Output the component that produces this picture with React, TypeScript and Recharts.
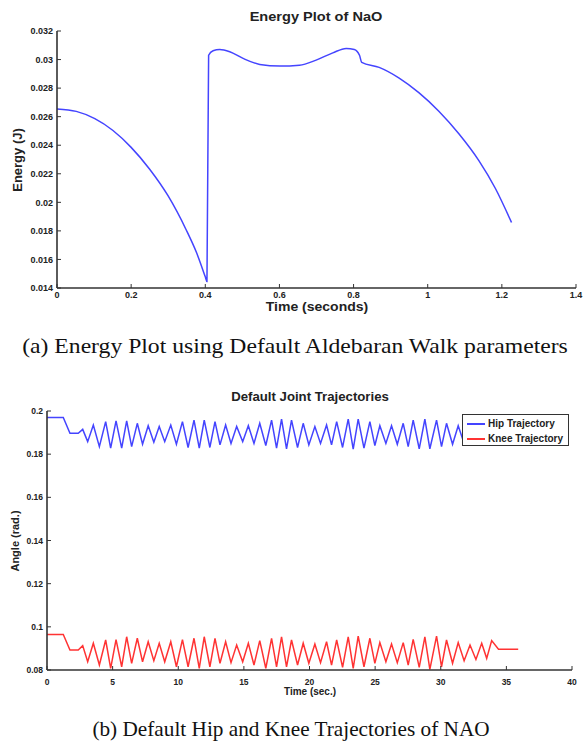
import React from "react";
import { LineChart, Line, XAxis, YAxis, Legend } from "recharts";

// (a) energy of the walk
const energyTime = [
  0, 0.052, 0.102, 0.151, 0.2, 0.25, 0.299, 0.348, 0.376, 0.4, 0.4045,
  0.409, 0.421, 0.439, 0.466, 0.502, 0.547, 0.601, 0.654, 0.699, 0.744,
  0.78, 0.802, 0.816, 0.822, 0.869, 0.923, 0.976, 1.03, 1.084, 1.138,
  1.183, 1.226,
];
const energyValue = [
  0.02654, 0.02637, 0.02586, 0.02503, 0.02385, 0.02232, 0.02048, 0.0181, 0.0165, 0.01478, 0.01445,
  0.0303, 0.03062, 0.03071, 0.03055, 0.03008, 0.02966, 0.02954, 0.0296, 0.02996, 0.03047,
  0.03078, 0.03071, 0.0303, 0.0298, 0.02945, 0.0287, 0.02768, 0.02638, 0.0248, 0.02292,
  0.02095, 0.01859,
];
const energyXTicks = [0, 0.2, 0.4, 0.6, 0.8, 1, 1.2, 1.4];
const energyYTicks = [0.014, 0.016, 0.018, 0.02, 0.022, 0.024, 0.026, 0.028, 0.03, 0.032];

// (b) joint trajectories: turning points of the zigzag
const jointTime = [
  0, 1.24, 1.75, 2.38, 2.72, 3.1,
  3.53, 3.99, 4.47, 4.85, 5.26, 5.69, 6.07, 6.45, 6.88, 7.28,
  7.71, 8.14, 8.55, 8.97, 9.43, 9.86, 10.32, 10.75, 11.2, 11.6,
  11.98, 12.41, 12.8, 13.18, 13.61, 14.02, 14.45, 14.91, 15.34, 15.77,
  16.21, 16.67, 17.11, 17.49, 17.87, 18.25, 18.63, 19.09, 19.52, 19.95,
  20.41, 20.84, 21.3, 21.68, 22.07, 22.52, 22.95, 23.33, 23.71, 24.15,
  24.6, 24.98, 25.36, 25.82, 26.25, 26.69, 27.14, 27.52, 27.9, 28.36,
  28.79, 29.17, 29.68, 30.06, 30.44, 30.9, 31.33, 31.78, 32.23, 32.68,
  33.12, 33.5, 33.88, 34.4, 35.9,
];
const hipAngle = [
  0.197, 0.197, 0.1897, 0.1897, 0.1915, 0.1858,
  0.1935, 0.1835, 0.1951, 0.1828, 0.1954, 0.1828, 0.1954, 0.1835, 0.1943, 0.1846,
  0.1932, 0.1855, 0.1928, 0.1858, 0.1935, 0.1846, 0.1951, 0.1831, 0.1958, 0.1828,
  0.1958, 0.1831, 0.1951, 0.1843, 0.1935, 0.185, 0.1928, 0.1858, 0.1932, 0.185,
  0.1943, 0.184, 0.1958, 0.1828, 0.1962, 0.1825, 0.1958, 0.1831, 0.1943, 0.1843,
  0.1928, 0.185, 0.1935, 0.1843, 0.1951, 0.1831, 0.1962, 0.1823, 0.1962, 0.1828,
  0.1951, 0.184, 0.1932, 0.185, 0.1932, 0.1846, 0.1943, 0.1835, 0.1958, 0.1825,
  0.1962, 0.1825, 0.1958, 0.1835, 0.1943, 0.1846, 0.1932, 0.185, 0.193, 0.1848,
  0.1935, 0.185, 0.194, 0.1895, 0.1895,
];
const kneeAngle = [
  0.0965, 0.0965, 0.0893, 0.0893, 0.0913, 0.0838,
  0.0924, 0.0823, 0.0939, 0.0808, 0.0941, 0.0815, 0.0954, 0.0831, 0.0947, 0.0838,
  0.0931, 0.0843, 0.0924, 0.0838, 0.0931, 0.0815, 0.0941, 0.0815, 0.0947, 0.0808,
  0.0954, 0.0815, 0.0947, 0.0831, 0.0931, 0.0834, 0.0916, 0.0838, 0.0924, 0.0823,
  0.0936, 0.0808, 0.0947, 0.0815, 0.0954, 0.0815, 0.0939, 0.0823, 0.0924, 0.0831,
  0.092, 0.0834, 0.0931, 0.0823, 0.0939, 0.0812, 0.0954, 0.0808, 0.0957, 0.0815,
  0.0947, 0.0831, 0.0927, 0.0838, 0.092, 0.0834, 0.0927, 0.0823, 0.0942, 0.0812,
  0.0954, 0.0803, 0.0957, 0.0815, 0.0939, 0.0831, 0.0927, 0.0843, 0.0916, 0.0849,
  0.0924, 0.0854, 0.0936, 0.0896, 0.0896,
];
const jointXTicks = [0, 5, 10, 15, 20, 25, 30, 35, 40];
const jointYTicks = [0.08, 0.1, 0.12, 0.14, 0.16, 0.18, 0.2];

const energyData = energyTime.map((t, i) => ({ t, energy: energyValue[i] }));
const jointData = jointTime.map((t, i) => ({ t, hip: hipAngle[i], knee: kneeAngle[i] }));

const SANS = '"Liberation Sans", Arial, sans-serif';
const SERIF = '"Liberation Serif", "Times New Roman", serif';
const FRAME = "#333";
const BLUE = "#4444ff";
const RED = "#ff3333";

// centred text; the scanned figure is a bit wider than tall, hence stretch
function Txt({ x, y, size, bold = true, serif = false, rotate = false, stretch = 1, children }: any) {
  const tf = rotate ? " rotate(-90deg)" : ` scaleX(${stretch})`;
  return (
    <div
      style={{
        position: "absolute",
        left: x,
        top: y,
        transform: `translate(-50%, -50%)${tf}`,
        whiteSpace: "nowrap",
        fontFamily: serif ? SERIF : SANS,
        fontWeight: bold ? "bold" : "normal",
        fontSize: size,
        lineHeight: 1,
        color: serif ? "#111" : "#222",
      }}
    >
      {children}
    </div>
  );
}

function JointLegend({ payload }: any) {
  return (
    <div style={{ padding: "1px 0 0 4px" }}>
      {(payload || []).map((p: any) => (
        <div key={p.value} style={{ display: "flex", alignItems: "center", height: 15 }}>
          <div style={{ width: 18, height: 2, background: p.color, marginRight: 3 }} />
          <span style={{ fontFamily: SANS, fontWeight: "bold", fontSize: 10, color: "#222" }}>{p.value}</span>
        </div>
      ))}
    </div>
  );
}

export default function App() {
  const axisCommon = {
    axisLine: { stroke: FRAME, strokeWidth: 1.6 },
    tickLine: { stroke: FRAME, strokeWidth: 1 },
    tickSize: -4,
  };
  return (
    <div style={{ position: "absolute", left: 0, top: 0, width: 584, height: 749, background: "#fff" }}>
      <Txt x={316} y={16} size={13} stretch={1.12}>Energy Plot of NaO</Txt>
      <div style={{ position: "absolute", left: 0, top: 0 }}>
        <LineChart width={584} height={315} data={energyData} margin={{ top: 31, right: 8, left: 0, bottom: 0 }}>
          <XAxis
            dataKey="t"
            type="number"
            domain={[0, 1.4]}
            ticks={energyXTicks}
            allowDataOverflow
            height={27}
            tickMargin={8}
            tick={{ fontSize: 9, fill: "#222", fontFamily: SANS, fontWeight: "bold" }}
            {...axisCommon}
          />
          <XAxis xAxisId="top" orientation="top" type="number" domain={[0, 1.4]} ticks={energyXTicks} allowDataOverflow height={0} tick={false} {...axisCommon} />
          <YAxis
            type="number"
            domain={[0.014, 0.032]}
            ticks={energyYTicks}
            allowDataOverflow
            width={57}
            tickMargin={8}
            tick={{ fontSize: 9, fill: "#222", fontFamily: SANS, fontWeight: "bold" }}
            {...axisCommon}
          />
          <YAxis yAxisId="right" orientation="right" type="number" domain={[0.014, 0.032]} ticks={energyYTicks} allowDataOverflow width={0} tick={false} {...axisCommon} />
          <Line type="monotone" dataKey="energy" stroke={BLUE} strokeWidth={1.5} dot={false} isAnimationActive={false} />
        </LineChart>
      </div>
      <Txt x={317} y={307} size={12.5} stretch={1.12}>Time (seconds)</Txt>
      <Txt x={17} y={160} size={13} rotate>Energy (J)</Txt>
      <Txt x={295} y={346} size={22} bold={false} serif stretch={1.075}>(a) Energy Plot using Default Aldebaran Walk parameters</Txt>

      <Txt x={310} y={397} size={12} stretch={1.1}>Default Joint Trajectories</Txt>
      <div style={{ position: "absolute", left: 0, top: 380 }}>
        <LineChart width={584} height={315} data={jointData} margin={{ top: 31, right: 12, left: 0, bottom: 0 }}>
          <XAxis
            dataKey="t"
            type="number"
            domain={[0, 40]}
            ticks={jointXTicks}
            allowDataOverflow
            height={25}
            tickMargin={13}
            tick={{ fontSize: 8.5, fill: "#222", fontFamily: SANS, fontWeight: "bold" }}
            {...axisCommon}
          />
          <XAxis xAxisId="top" orientation="top" type="number" domain={[0, 40]} ticks={jointXTicks} allowDataOverflow height={0} tick={false} {...axisCommon} />
          <YAxis
            type="number"
            domain={[0.08, 0.2]}
            ticks={jointYTicks}
            allowDataOverflow
            width={47}
            tickMargin={8}
            tick={{ fontSize: 8.5, fill: "#222", fontFamily: SANS, fontWeight: "bold" }}
            {...axisCommon}
          />
          <YAxis yAxisId="right" orientation="right" type="number" domain={[0.08, 0.2]} ticks={jointYTicks} allowDataOverflow width={0} tick={false} {...axisCommon} />
          <Line type="linear" dataKey="hip" name="Hip Trajectory" stroke={BLUE} strokeWidth={1.5} dot={false} isAnimationActive={false} />
          <Line type="linear" dataKey="knee" name="Knee Trajectory" stroke={RED} strokeWidth={1.5} dot={false} isAnimationActive={false} />
          <Legend
            layout="vertical"
            align="center"
            verticalAlign="middle"
            content={<JointLegend />}
            wrapperStyle={{
              left: 462,
              top: 34,
              width: 107,
              height: 32,
              border: `1.5px solid ${FRAME}`,
              background: "#fff",
              boxSizing: "border-box",
            }}
          />
        </LineChart>
      </div>
      <Txt x={310} y={692} size={10}>Time (sec.)</Txt>
      <Txt x={15} y={541} size={11} rotate>Angle (rad.)</Txt>
      <Txt x={291} y={729} size={21} bold={false} serif stretch={1.012}>(b) Default Hip and Knee Trajectories of NAO</Txt>
    </div>
  );
}
